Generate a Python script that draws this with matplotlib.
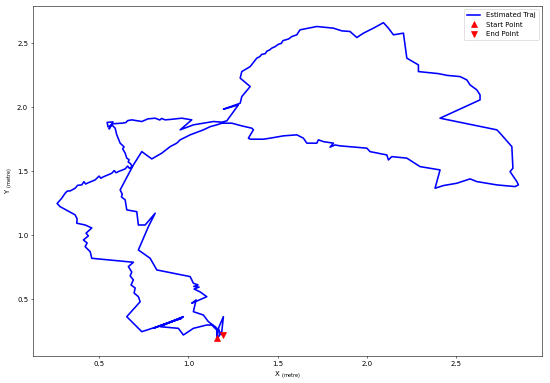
import matplotlib
matplotlib.use("Agg")
import matplotlib.pyplot as plt

# Outer (western) branch: start -> crossing
outer_x = [1.159, 1.159, 1.131, 1.103, 1.028, 0.972, 0.944, 0.842, 0.972, 0.804,
           0.963, 0.786, 0.739, 0.655, 0.730, 0.720, 0.696, 0.702, 0.679, 0.692,
           0.674, 0.683, 0.664, 0.692, 0.459, 0.450, 0.422, 0.433, 0.412, 0.440,
           0.427, 0.459, 0.422, 0.375, 0.377, 0.366, 0.282, 0.265, 0.291, 0.310,
           0.322, 0.338, 0.366, 0.380, 0.403, 0.415, 0.425, 0.438, 0.478, 0.500,
           0.510, 0.522, 0.571, 0.585, 0.595, 0.608, 0.646, 0.660, 0.670, 0.686]
outer_y = [0.200, 0.260, 0.299, 0.299, 0.273, 0.221, 0.273, 0.286, 0.364, 0.273,
           0.352, 0.268, 0.247, 0.364, 0.481, 0.520, 0.549, 0.588, 0.612, 0.651,
           0.682, 0.713, 0.755, 0.789, 0.820, 0.872, 0.911, 0.940, 0.963, 0.995,
           1.016, 1.057, 1.080, 1.094, 1.127, 1.159, 1.223, 1.248, 1.289, 1.328,
           1.345, 1.346, 1.367, 1.390, 1.393, 1.418, 1.400, 1.409, 1.432, 1.462,
           1.445, 1.455, 1.484, 1.505, 1.488, 1.497, 1.518, 1.540, 1.522, 1.538]

# Crossing -> north-west cluster -> junction
north_x = [0.675, 0.663, 0.668, 0.655, 0.646, 0.632, 0.640, 0.618, 0.599, 0.590,
           0.571, 0.550, 0.545, 0.578, 0.556, 0.573, 0.627, 0.650, 0.660, 0.683,
           0.739, 0.774, 0.814, 0.840, 0.850, 0.870, 0.903, 0.963, 1.019, 0.954,
           1.028, 1.084, 1.140, 1.187]
north_y = [1.560, 1.572, 1.590, 1.602, 1.641, 1.675, 1.690, 1.719, 1.784, 1.836,
           1.862, 1.846, 1.881, 1.885, 1.830, 1.870, 1.875, 1.880, 1.895, 1.901,
           1.888, 1.909, 1.914, 1.900, 1.912, 1.901, 1.905, 1.914, 1.901, 1.823,
           1.862, 1.875, 1.888, 1.883]

# Big eastern loop: junction -> top -> east -> back to junction
loop_x = [1.215, 1.280, 1.196, 1.290, 1.299, 1.346, 1.290, 1.299, 1.346, 1.383,
          1.400, 1.410, 1.430, 1.440, 1.455, 1.467, 1.486, 1.505, 1.520, 1.530,
          1.560, 1.580, 1.607, 1.625, 1.719, 1.812, 1.859, 1.905, 1.943, 1.980,
          2.036, 2.092, 2.120, 2.148, 2.204, 2.223, 2.288, 2.288, 2.400, 2.450,
          2.521, 2.559, 2.577, 2.615, 2.633, 2.633, 2.409, 2.727, 2.745, 2.811,
          2.817, 2.801, 2.839, 2.848, 2.829, 2.727, 2.615, 2.577, 2.503, 2.428,
          2.381, 2.409, 2.297, 2.223, 2.139, 2.120, 2.111, 2.017, 1.999, 1.849,
          1.821, 1.793, 1.812, 1.756, 1.728, 1.719, 1.663, 1.644, 1.607, 1.532,
          1.458, 1.420, 1.346, 1.336, 1.364, 1.355, 1.299, 1.243, 1.187]
loop_y = [1.893, 2.018, 1.984, 2.031, 2.083, 2.161, 2.227, 2.278, 2.317, 2.383,
          2.395, 2.412, 2.418, 2.438, 2.447, 2.461, 2.473, 2.492, 2.498, 2.520,
          2.532, 2.552, 2.565, 2.604, 2.630, 2.617, 2.596, 2.591, 2.544, 2.578,
          2.617, 2.660, 2.617, 2.565, 2.578, 2.383, 2.330, 2.278, 2.262, 2.248,
          2.239, 2.213, 2.174, 2.135, 2.096, 2.057, 1.914, 1.823, 1.797, 1.692,
          1.523, 1.497, 1.419, 1.393, 1.380, 1.393, 1.419, 1.440, 1.406, 1.388,
          1.367, 1.510, 1.536, 1.602, 1.614, 1.588, 1.627, 1.653, 1.680, 1.698,
          1.705, 1.688, 1.719, 1.731, 1.745, 1.719, 1.719, 1.758, 1.784, 1.776,
          1.758, 1.750, 1.750, 1.758, 1.823, 1.836, 1.854, 1.875, 1.875]

# Junction -> crossing -> inner branch -> end
inner_x = [1.159, 1.122, 1.084, 1.010, 0.954, 0.935, 0.898, 0.851, 0.795, 0.739,
           0.692, 0.618, 0.630, 0.625, 0.646, 0.655, 0.711, 0.720, 0.758, 0.814,
           0.776, 0.720, 0.786, 0.823, 1.010, 1.028, 1.054, 1.030, 1.060, 1.032,
           1.066, 1.103, 1.019, 1.043, 1.028, 1.084, 1.112, 1.150, 1.168, 1.159,
           1.187, 1.196, 1.168, 1.178, 1.193]
inner_y = [1.862, 1.848, 1.823, 1.784, 1.745, 1.719, 1.692, 1.641, 1.596, 1.653,
           1.549, 1.354, 1.320, 1.300, 1.276, 1.198, 1.184, 1.080, 1.080, 1.172,
           1.067, 0.885, 0.820, 0.729, 0.677, 0.625, 0.612, 0.600, 0.595, 0.580,
           0.557, 0.520, 0.469, 0.495, 0.403, 0.377, 0.325, 0.286, 0.260, 0.185,
           0.247, 0.364, 0.273, 0.234, 0.221]

traj_x = outer_x + north_x + loop_x + inner_x
traj_y = outer_y + north_y + loop_y + inner_y

series_labels = ["Estimated Traj", "Start Point", "End Point"]
x_label = r"X $_{\mathrm{(metre)}}$"
y_label = r"Y $_{\mathrm{(metre)}}$"
ticks = [0.5, 1.0, 1.5, 2.0, 2.5]

fig = plt.figure(figsize=(11, 7.66), dpi=50)
ax = fig.add_axes([0.06, 0.0705, 0.9255, 0.9138])
ax.plot(traj_x, traj_y, color="blue", lw=2.3, label=series_labels[0])
ax.plot([traj_x[0]], [traj_y[0]], linestyle="none", marker="^", color="red",
        markersize=10, label=series_labels[1])
ax.plot([traj_x[-1]], [traj_y[-1]], linestyle="none", marker="v", color="red",
        markersize=10, label=series_labels[2])
ax.set_xlim(0.13, 2.98)
ax.set_ylim(0.057, 2.79)
ax.set_xticks(ticks)
ax.set_yticks(ticks)
ax.set_xlabel(x_label)
ax.set_ylabel(y_label)
ax.legend(loc="upper right")
fig.savefig("out.png", dpi=50)
